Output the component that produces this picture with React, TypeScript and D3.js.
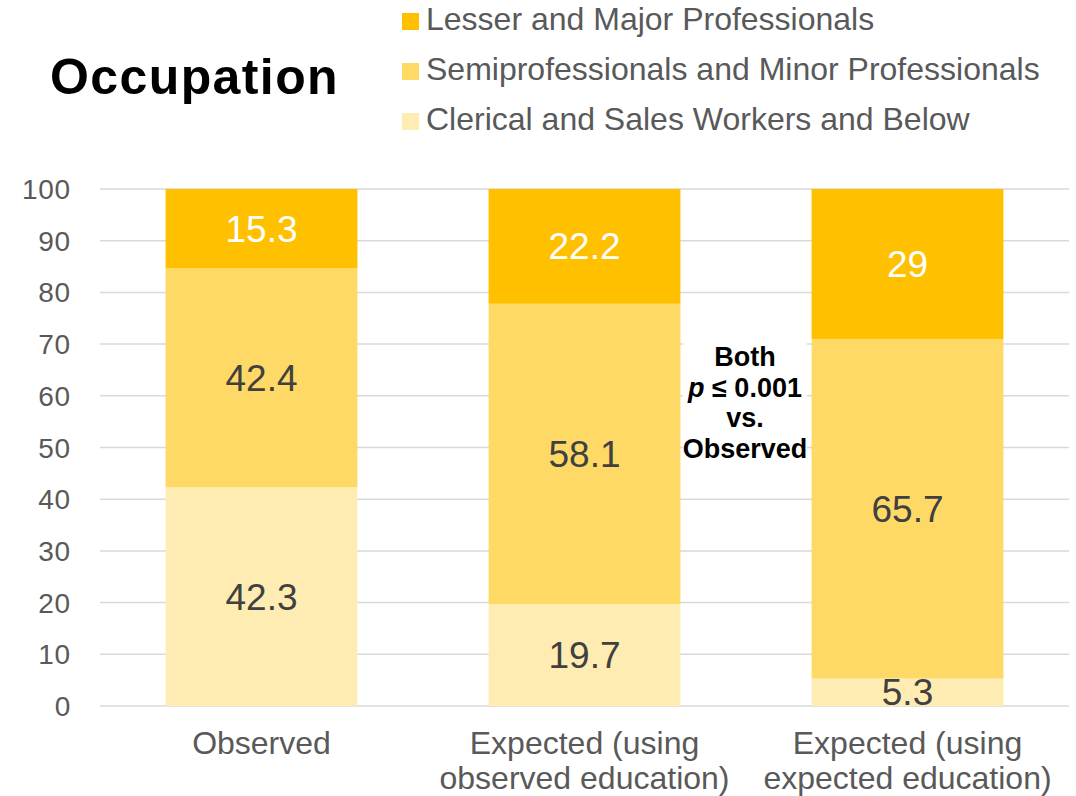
import React from "react";
import * as d3 from "d3";

const categories = [
  ["Observed"],
  ["Expected (using", "observed education)"],
  ["Expected (using", "expected education)"],
];
const seriesNames = [
  "Lesser and Major Professionals",
  "Semiprofessionals and Minor Professionals",
  "Clerical and Sales Workers and Below",
];
const clerical = [42.3, 19.7, 5.3];
const semipro = [42.4, 58.1, 65.7];
const lesser = [15.3, 22.2, 29];
const yTicks = [0, 10, 20, 30, 40, 50, 60, 70, 80, 90, 100];
const colors = ["#FFC000", "#FFD966", "#FFECB3"];

const W = 1076, H = 796;
const font = "Liberation Sans, Arial, sans-serif";

export default function App() {
  const x = d3.scaleBand<number>().domain([0, 1, 2]).range([100, 1069]).paddingInner(0.406).paddingOuter(0.203);
  const y = d3.scaleLinear().domain([0, 100]).range([706, 189]);
  const rows = [0, 1, 2].map((i) => ({ clerical: clerical[i], semipro: semipro[i], lesser: lesser[i] }));
  const stack = d3.stack<any>().keys(["clerical", "semipro", "lesser"]);
  const layers = stack(rows);
  const layerColor = [colors[2], colors[1], colors[0]];
  const labelColor = ["#404040", "#404040", "#FFFFFF"];
  return (
    <svg width={W} height={H} style={{ position: "absolute", left: 0, top: 0, background: "#fff" }} fontFamily={font}>
      <text x={50} y={94} fontSize={50} fontWeight="bold" fill="#000" letterSpacing={1.4}>Occupation</text>
      {seriesNames.map((n, i) => (
        <g key={n}>
          <rect x={402} y={13 + i * 50} width={17} height={17} fill={colors[i]} />
          <text x={426} y={30 + i * 50} fontSize={32} fill="#595959">{n}</text>
        </g>
      ))}
      {yTicks.map((t) => (
        <g key={t}>
          <line x1={100} x2={1069} y1={y(t)} y2={y(t)} stroke="#D9D9D9" strokeWidth={1.5} />
          <text x={71} y={y(t) + 10} fontSize={28} fill="#595959" textAnchor="end" letterSpacing={0.8}>{t}</text>
        </g>
      ))}
      {layers.map((layer, li) => (
        <g key={li}>
          {layer.map((d, i) => {
            const y0 = y(d[0]), y1 = y(d[1]);
            const v = d[1] - d[0];
            return (
              <g key={i}>
                <rect x={x(i)} y={y1} width={x.bandwidth()} height={y0 - y1} fill={layerColor[li]} />
                <text x={(x(i) as number) + x.bandwidth() / 2} y={(y0 + y1) / 2 + 13} fontSize={37} fill={labelColor[li]} textAnchor="middle">{String(v.toFixed(1)).replace(/\.0$/, "")}</text>
              </g>
            );
          })}
        </g>
      ))}
      <rect x={683} y={340} width={124} height={126} fill="#fff" />
      {[["Both"], ["p", " ≤ 0.001"], ["vs."], ["Observed"]].map((l, i) => (
        <text key={i} x={745} y={366 + i * 30.5} fontSize={27} fontWeight="bold" fill="#000" textAnchor="middle">
          {l.length > 1 ? (<><tspan fontStyle="italic">{l[0]}</tspan>{l[1]}</>) : l[0]}
        </text>
      ))}
      {categories.map((c, i) => c.map((line, j) => (
        <text key={i + "-" + j} x={(x(i) as number) + x.bandwidth() / 2} y={754 + j * 35} fontSize={32} fill="#595959" textAnchor="middle">{line}</text>
      )))}
    </svg>
  );
}
